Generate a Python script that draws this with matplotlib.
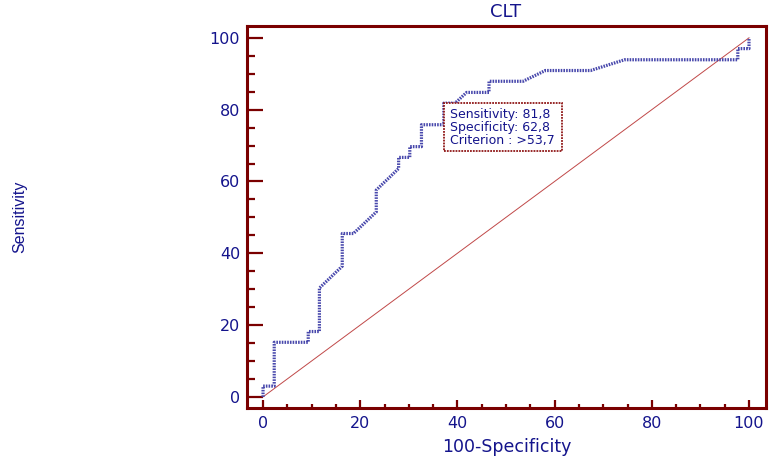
import matplotlib
matplotlib.use("Agg")
import matplotlib.pyplot as plt
from matplotlib.patches import Rectangle
from matplotlib.ticker import MultipleLocator

plt.rcParams['font.family'] = ['DejaVu Sans']

# ROC curve vertices (100-Specificity, Sensitivity)
fpr = [0, 0, 2.3, 2.3, 9.3, 9.3, 11.6, 11.6, 16.3, 16.3, 18.6, 23.3, 23.3, 27.9, 27.9,
       30.2, 30.2, 32.6, 32.6, 37.2, 37.2, 39.5, 41.9, 46.5, 46.5, 53.5, 58.1, 67.4,
       74.4, 97.7, 97.7, 100, 100]
tpr = [0, 3.0, 3.0, 15.2, 15.2, 18.2, 18.2, 30.3, 36.4, 45.5, 45.5, 51.5, 57.6, 63.6, 66.7,
       66.7, 69.7, 69.7, 75.8, 75.8, 81.8, 81.8, 84.8, 84.8, 87.9, 87.9, 90.9, 90.9,
       93.9, 93.9, 97.0, 97.0, 100]
diag = [0, 100]
opt_point = (37.2, 81.8)
box_lines = ["Sensitivity: 81,8", "Specificity: 62,8", "Criterion : >53,7"]
title = "CLT"
xlabel = "100-Specificity"
ylabel = "Sensitivity"

navy = '#14148c'
dred = '#7a0000'

fig = plt.figure(figsize=(7.71, 4.63), dpi=100)
ax = fig.add_axes([247/771, 1-408/463, 519/771, 382/463])
ax.set_xlim(-3.3, 103.5)
ax.set_ylim(-3.1, 103.3)

ax.plot(diag, diag, color='#c04848', lw=0.7, zorder=2)
ax.plot(fpr, tpr, color='#4848ac', lw=2.3, linestyle=(0, (0.5, 0.35)), zorder=3)

# annotation box
bx0, by0 = opt_point
bx1, by1 = 61.5, 68.5
ax.add_patch(Rectangle((bx0, by1), bx1 - bx0, by0 - by1, fill=True, facecolor='white',
                       edgecolor='#901818', lw=1.3, linestyle=(0, (1, 0.6)), zorder=4))
for i, t in enumerate(box_lines):
    ax.text(bx0 + 1.3, by0 - 1.3 - i * 3.65, t, color=navy, fontsize=9,
            ha='left', va='top', zorder=5)

for s in ax.spines.values():
    s.set_color(dred)
    s.set_linewidth(2.2)

ax.xaxis.set_major_locator(MultipleLocator(20))
ax.xaxis.set_minor_locator(MultipleLocator(5))
ax.yaxis.set_major_locator(MultipleLocator(20))
ax.yaxis.set_minor_locator(MultipleLocator(5))
ax.tick_params(axis='both', which='both', direction='in', color=dred, width=1.6,
               labelcolor=navy, labelsize=11.5, top=False, right=False)
ax.tick_params(axis='y', which='major', length=11.5, pad=5)
ax.tick_params(axis='y', which='minor', length=6)
ax.tick_params(axis='x', which='major', length=6, pad=6)
ax.tick_params(axis='x', which='minor', length=3)

fig.text(506/771, 1-12/463, title, color=navy, fontsize=13, ha='center', va='center')
fig.text(507/771, 1-447/463, xlabel, color=navy, fontsize=12.5, ha='center', va='center')
fig.text(20/771, 1-217/463, ylabel, color=navy, fontsize=11.5, ha='center', va='center',
         rotation=90, family='Liberation Sans')

fig.savefig('out.png', dpi=100)
